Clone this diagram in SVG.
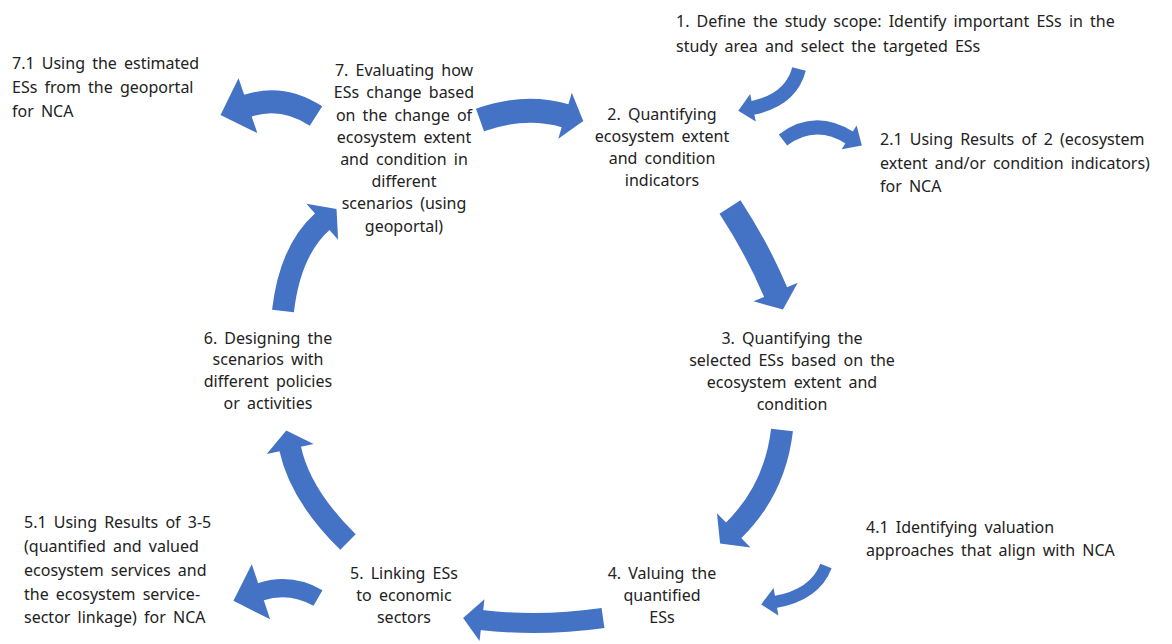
<svg xmlns="http://www.w3.org/2000/svg" width="1172" height="644" viewBox="0 0 1172 644">
<style>
text{font-family:"Noto Sans","Open Sans",sans-serif;font-size:16px;word-spacing:3px;fill:#222}
.c{text-anchor:middle}
.arr{fill:none;stroke:#4472C4;stroke-linecap:butt}
.mA{marker-end:url(#mA)}
.mB{marker-end:url(#mB)}
.mC{marker-end:url(#mC)}
.mD{marker-end:url(#mD)}
</style>
<defs>
<marker id="mA" markerUnits="userSpaceOnUse" markerWidth="30" markerHeight="58" refX="1" refY="29" orient="auto" overflow="visible"><path d="M0,0 L29,29 L0,58 z" fill="#4472C4"/></marker>
<marker id="mB" markerUnits="userSpaceOnUse" markerWidth="20" markerHeight="48" refX="1" refY="24" orient="auto" overflow="visible"><path d="M0,0 L19,24 L0,48 z" fill="#4472C4"/></marker>
<marker id="mC" markerUnits="userSpaceOnUse" markerWidth="20" markerHeight="42" refX="1" refY="21" orient="auto" overflow="visible"><path d="M0,0 L19,21 L0,42 z" fill="#4472C4"/></marker>
<marker id="mD" markerUnits="userSpaceOnUse" markerWidth="16" markerHeight="28" refX="1" refY="14" orient="auto" overflow="visible"><path d="M0,0 L15,14 L0,28 z" fill="#4472C4"/></marker>
</defs>
<rect width="1172" height="644" fill="#fff"/>
<g id="connectors">
<path class="arr mB" stroke-width="24" d="M480,120 Q525,104 566,116"/>
<path class="arr mA" stroke-width="23" d="M316,116 Q282,94 247,106"/>
<path class="arr mD" stroke-width="14" d="M799,69 Q791,100 752,108"/>
<path class="arr mD" stroke-width="14" d="M783,140 Q815,116 850,138"/>
<path class="arr mB" stroke-width="25" d="M730,207 Q758,250 776,293"/>
<path class="arr mB" stroke-width="22" d="M782,430 Q775,490 733,531"/>
<path class="arr mD" stroke-width="12" d="M826,566 Q815,595 775,602"/>
<path class="arr mC" stroke-width="20" d="M603,618 Q540,627 481,620"/>
<path class="arr mA" stroke-width="18" d="M318,598 Q290,582 260,592"/>
<path class="arr mB" stroke-width="22" d="M348,542 Q300,495 290,448"/>
<path class="arr mB" stroke-width="22" d="M283,311 Q290,250 323,221"/>
</g>
<g id="n1"><text x="676" y="27">1. Define the study scope: Identify important ESs in the</text><text x="676" y="52">study area and select the targeted ESs</text></g>
<g id="n71"><text x="12" y="69">7.1 Using the estimated</text><text x="12" y="93">ESs from the geoportal</text><text x="12" y="117">for NCA</text></g>
<g id="n7"><text class="c" x="404" y="76">7. Evaluating how</text><text class="c" x="404" y="98">ESs change based</text><text class="c" x="404" y="121">on the change of</text><text class="c" x="404" y="143">ecosystem extent</text><text class="c" x="404" y="165">and condition in</text><text class="c" x="404" y="187">different</text><text class="c" x="404" y="209">scenarios (using</text><text class="c" x="404" y="232">geoportal)</text></g>
<g id="n2"><text class="c" x="662" y="120">2. Quantifying</text><text class="c" x="662" y="142">ecosystem extent</text><text class="c" x="662" y="164">and condition</text><text class="c" x="662" y="186">indicators</text></g>
<g id="n21"><text x="880" y="145">2.1 Using Results of 2 (ecosystem</text><text x="880" y="169">extent and/or condition indicators)</text><text x="880" y="192">for NCA</text></g>
<g id="n3"><text class="c" x="792" y="344">3. Quantifying the</text><text class="c" x="792" y="366">selected ESs based on the</text><text class="c" x="792" y="388">ecosystem extent and</text><text class="c" x="792" y="410">condition</text></g>
<g id="n6"><text class="c" x="268" y="344">6. Designing the</text><text class="c" x="268" y="365">scenarios with</text><text class="c" x="268" y="387">different policies</text><text class="c" x="268" y="409">or activities</text></g>
<g id="n41"><text x="866" y="533">4.1 Identifying valuation</text><text x="866" y="556">approaches that align with NCA</text></g>
<g id="n4"><text class="c" x="662" y="579">4. Valuing the</text><text class="c" x="662" y="601">quantified</text><text class="c" x="662" y="623">ESs</text></g>
<g id="n5"><text class="c" x="404" y="579">5. Linking ESs</text><text class="c" x="404" y="601">to economic</text><text class="c" x="404" y="623">sectors</text></g>
<g id="n51"><text x="24" y="528">5.1 Using Results of 3-5</text><text x="24" y="552">(quantified and valued</text><text x="24" y="576">ecosystem services and</text><text x="24" y="600">the ecosystem service-</text><text x="24" y="623">sector linkage) for NCA</text></g>
</svg>
